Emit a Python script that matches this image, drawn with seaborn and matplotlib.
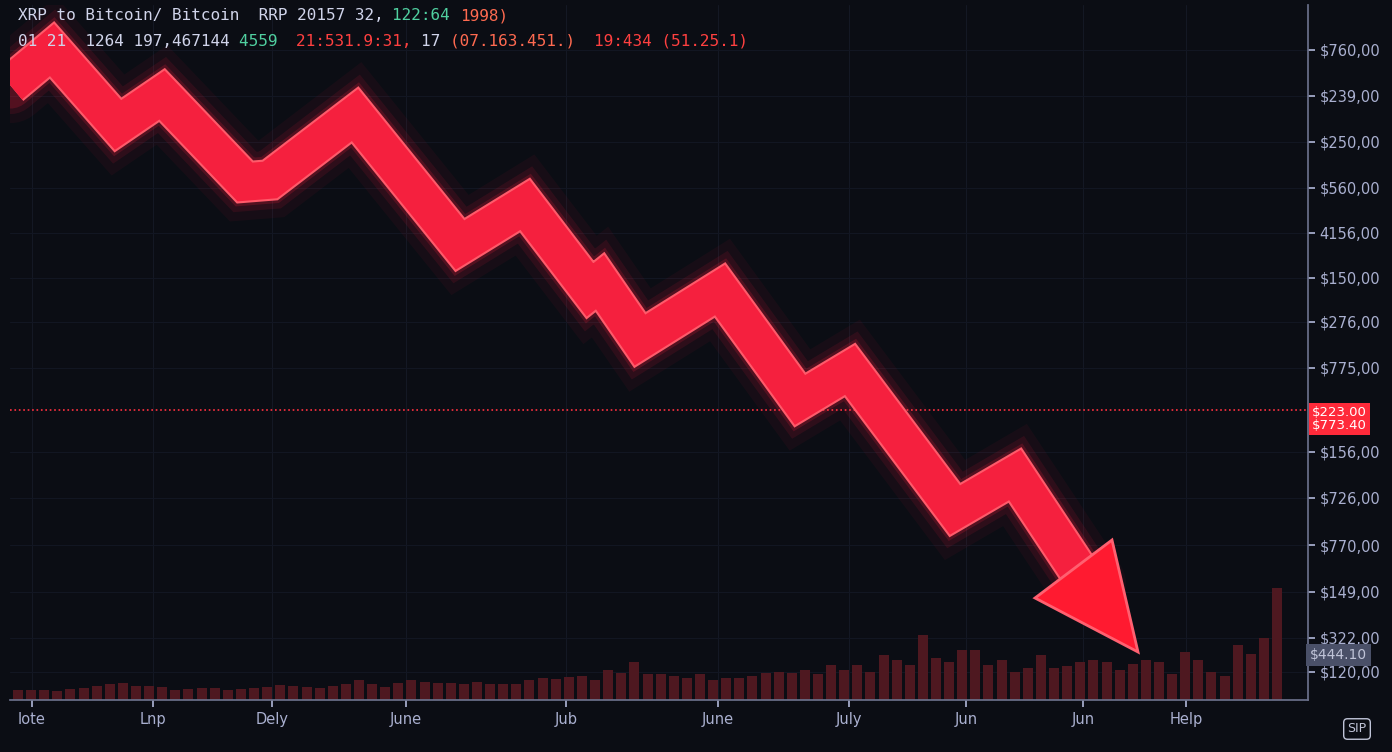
import matplotlib.pyplot as plt
import matplotlib.patheffects as pe
import numpy as np
import seaborn as sns

# chart uses screen-like coordinates: x left->right, y top->bottom
path_x = [10, 52, 118, 162, 245, 270, 355, 460, 525, 590, 600, 640, 720, 800, 850, 955, 1015, 1088]
path_y = [85, 50, 125, 95, 182, 180, 115, 245, 205, 290, 282, 340, 290, 400, 370, 510, 475, 585]
head_x = [1035, 1112, 1138]
head_y = [598, 540, 652]

vol = [10, 10, 10, 9, 11, 12, 14, 16, 17, 14, 14, 13, 10, 11, 12, 12, 10, 11, 12, 13, 15, 14, 13, 12, 14, 16, 20, 16, 13, 17, 20, 18, 17, 17, 16, 18, 16, 16, 16, 20, 22, 21,
       23, 24, 20, 30, 27, 38, 26, 26, 24, 22, 26, 20, 22, 22, 24, 27, 28, 27, 30, 26, 35, 30, 35, 28, 45, 40, 35, 65, 42, 38, 50, 50, 35, 40, 28, 32, 45, 32, 34, 38, 40, 38, 30,
       36, 40, 38, 26, 48, 40, 28, 24, 55, 46, 62, 112]
vol_x = list(np.linspace(18, 1277, len(vol)))

tick_y = [50, 96, 142, 188, 233, 278, 322, 368, 452, 498, 545, 592, 638, 672]
tick_lbl = ['$760,00', '$239,00', '$250,00', '$560,00', '4156,00', '$150,00', '$276,00', '$775,00',
            '$156,00', '$726,00', '$770,00', '$149,00', '$322,00', '$120,00']
month_x = [32, 153, 272, 406, 566, 718, 849, 966, 1083, 1186]
month_lbl = ['Iote', 'Lnp', 'Dely', 'June', 'Jub', 'June', 'July', 'Jun', 'Jun', 'Help']

bg = '#0b0d14'
sns.set_theme(style='dark', rc={'axes.facecolor': bg, 'figure.facecolor': bg})
fig = plt.figure(figsize=(13.92, 7.52), dpi=100)
ax = fig.add_axes([10 / 1392, 52 / 752, 1298 / 1392, 695 / 752])
ax.set_xlim(10, 1308)
ax.set_ylim(700, 5)

for xv in month_x:
    ax.axvline(xv, color='#141824', lw=0.8, zorder=0)
for yv in tick_y:
    ax.axhline(yv, color='#121622', lw=0.8, zorder=0)

ax.bar(vol_x, vol, width=10, bottom=[700 - v for v in vol], color='#4e1820', edgecolor='none', zorder=1)

# glowing arrow
for lw, a in [(55, 0.05), (42, 0.1), (34, 0.18)]:
    ax.plot(path_x, path_y, color='#ff2040', lw=lw, alpha=a, solid_joinstyle='miter', zorder=2)
ax.plot(path_x, path_y, color='#f5203e', lw=27, solid_joinstyle='miter', solid_capstyle='butt',
        zorder=3, path_effects=[pe.Stroke(linewidth=30, foreground='#ff5a6a'), pe.Normal()])
ax.fill(head_x, head_y, color='#ff1a30', ec='#ff6070', lw=2, zorder=4)

ax.axhline(410, color='#ff3040', ls=':', lw=1.2, zorder=2)

ax.yaxis.tick_right()
ax.set_yticks(tick_y, tick_lbl)
ax.set_xticks(month_x, month_lbl)
ax.tick_params(colors='#aab0d0', labelsize=10.5, length=5, direction='out', left=False, right=True, bottom=True)
for s in ['left', 'top']:
    ax.spines[s].set_visible(False)
for s in ['right', 'bottom']:
    ax.spines[s].set_color('#6a708a')

fig.text(1312 / 1392, 1 - 419 / 752, '$223.00\n$773.40', color='white', fontsize=9.5, va='center', linespacing=1.0,
         bbox=dict(boxstyle='square,pad=0.25', fc='#ff2a3a', ec='none'))
fig.text(1310 / 1392, 1 - 655 / 752, '$444.10', color='#c0c4d8', fontsize=10, va='center',
         bbox=dict(boxstyle='square,pad=0.3', fc='#4a5068', ec='none'))
fig.text(1357 / 1392, 1 - 729 / 752, 'SIP', color='#c0c4d8', fontsize=9, ha='center', va='center',
         bbox=dict(boxstyle='round,pad=0.3', fc=bg, ec='#c0c4d8'))

f = 'DejaVu Sans Mono'
row1 = [('XRP to Bitcoin/ Bitcoin  RRP 20157 32, ', '#d0d4ea'), ('122:64 ', '#50d0a0'), ('1998)', '#ff6a50')]
row2 = [('01 21  1264 197,467144 ', '#d0d4ea'), ('4559  ', '#50d0a0'), ('21:531.9:31, ', '#ff4040'),
        ('17 ', '#d0d4ea'), ('(07.163.451.)  ', '#ff6a50'), ('19:434 (51.25.1)', '#ff4040')]
for yy, row in [(16, row1), (41, row2)]:
    xx = 18
    for txt, c in row:
        fig.text(xx / 1392, 1 - yy / 752, txt, color=c, fontsize=11.5, family=f, va='center')
        xx += len(txt) * 9.6

fig.savefig('out.png', dpi=100, facecolor=bg)
